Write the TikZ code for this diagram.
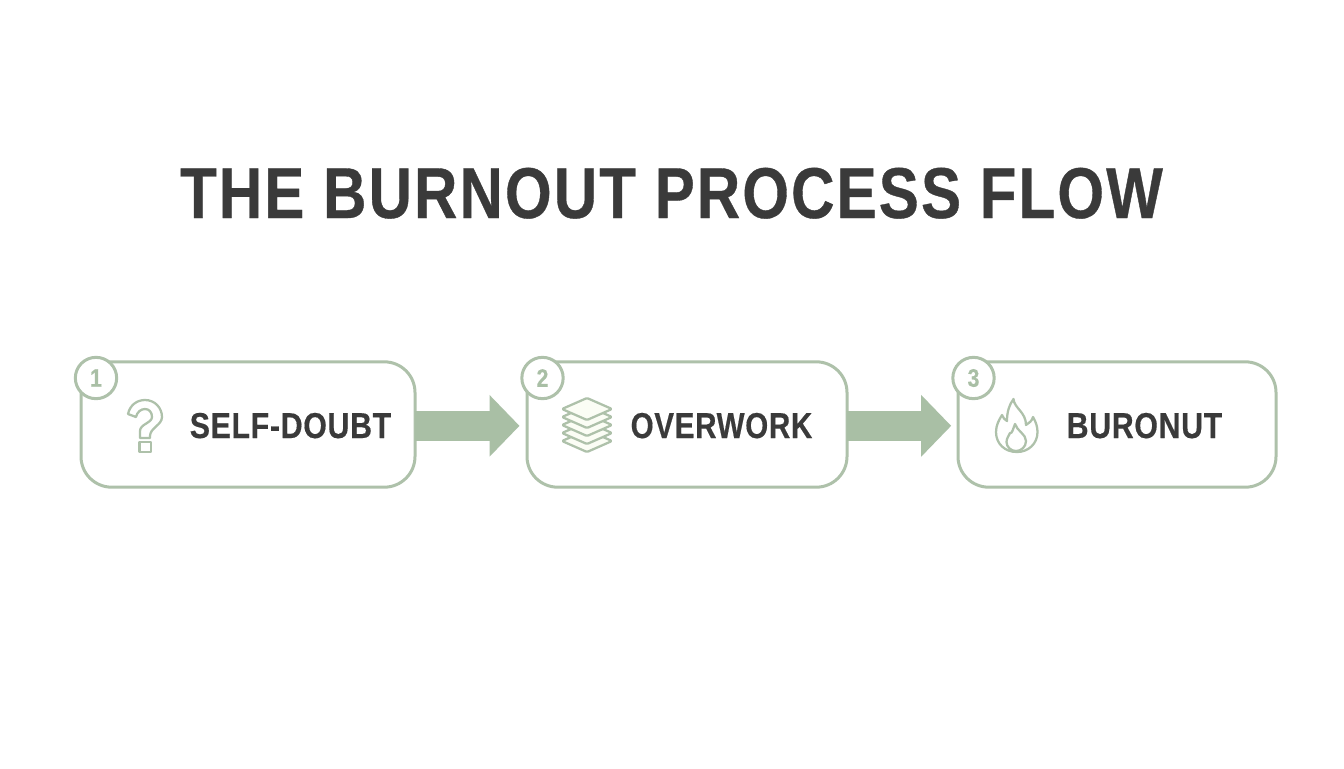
\documentclass[tikz,border=0pt]{standalone}
\usepackage{fontspec}
\setmainfont{Liberation Sans}
\newfontfamily\titlefont[FakeStretch=0.833,LetterSpace=3,FakeBold=0.5]{Liberation Sans Bold}
\newfontfamily\labelfont[FakeStretch=0.84,LetterSpace=2,FakeBold=0.4]{Liberation Sans Bold}
\newfontfamily\labelfontb[FakeStretch=0.82,LetterSpace=2,FakeBold=0.4]{Liberation Sans Bold}
\usetikzlibrary{arrows.meta}
\definecolor{sage}{HTML}{A9BFA5}
\definecolor{sageline}{HTML}{AEC1AA}
\definecolor{ink}{HTML}{3A3A3A}
\definecolor{leaf}{HTML}{FBFDF5}
\tikzset{
  x=0.75pt,y=-0.75pt,
  stagebox/.style={draw=sageline,line width=2.25pt,rounded corners=23pt,fill=white,minimum height=94pt,inner sep=0pt},
  badge/.style={circle,draw=sageline,line width=2.25pt,fill=white,minimum size=31pt,inner sep=0pt,text=sage,font=\labelfont\fontsize{19}{19}\selectfont},
  stagelabel/.style={text=ink,font=\labelfont\fontsize{27}{27}\selectfont,inner sep=0pt,anchor=base},
  flowarrow/.style={draw=sage,line width=22.5pt,-{Triangle[length=22.5pt,width=45pt]}},
  icon/.style={draw=sageline,line width=1.7pt,line join=round},
}
\begin{document}
\begin{tikzpicture}
\useasboundingbox (0,0) rectangle (1344,768);
\fill[white] (0,0) rectangle (1344,768);
\node[text=ink,font=\titlefont\fontsize{54}{54}\selectfont,inner sep=0pt,anchor=base] (title) at (671.5,218) {THE BURNOUT PROCESS FLOW};
\node[stagebox,minimum width=250.5pt] (box1) at (248,424.5) {};
\node[stagebox,minimum width=240pt] (box2) at (687,424.5) {};
\node[stagebox,minimum width=238.5pt] (box3) at (1117,424.5) {};
\draw[flowarrow] ([xshift=-1.5pt,yshift=-1pt]box1.east) -- ([xshift=-4.5pt,yshift=-1pt]box2.west);
\draw[flowarrow] ([xshift=-1.5pt,yshift=-1pt]box2.east) -- ([xshift=-4pt,yshift=-1pt]box3.west);
\node[badge] (n1) at (96,378) {1};
\node[badge] (n2) at (542.5,378) {2};
\node[badge] (n3) at (973.5,378) {3};
\node[stagelabel] (l1) at (290.5,438) {SELF-DOUBT};
\node[stagelabel,font=\labelfontb\fontsize{27}{27}\selectfont] (l2) at (721.5,438) {OVERWORK};
\node[stagelabel] (l3) at (1144.5,438) {BURONUT};
% question mark
\draw[icon] (128,414) .. controls (130,405) and (137,400) .. (145,400)
  .. controls (155,400) and (162,408) .. (162,417)
  .. controls (162,425) and (150,428) .. (150,436) -- (150,438) -- (140,438) -- (140,431)
  .. controls (140,424) and (152,423) .. (152,417)
  .. controls (152,412) and (149,409) .. (145,409)
  .. controls (141,409) and (137,412) .. (136,417) -- cycle;
\draw[icon] (139.5,442) rectangle (151,452);
% stack
\foreach \yy in {441,433,425,417,409}{
  \draw[icon,fill=leaf,rounded corners=1pt] (562,\yy) -- (587,\yy-11) -- (612,\yy) -- (587,\yy+11) -- cycle;
}
% flame
\draw[icon] (1013.5,399) .. controls (1014,408) and (1026,412) .. (1026,425)
  .. controls (1029,423) and (1032,421) .. (1033,417)
  .. controls (1036,422) and (1037.5,427) .. (1037.5,432)
  .. controls (1037.5,444) and (1028,452) .. (1017,452)
  .. controls (1005,452) and (996,444) .. (996,432)
  .. controls (996,425) and (999,420) .. (1002,415)
  .. controls (1003,418) and (1005,420) .. (1007,421)
  .. controls (1007,412) and (1009,405) .. (1013.5,399) -- cycle;
\draw[icon] (1015,424) .. controls (1017,431) and (1026,434) .. (1026,441)
  .. controls (1026,447) and (1021,451) .. (1016,451)
  .. controls (1011,451) and (1006.5,447) .. (1006.5,442)
  .. controls (1006.5,438) and (1009,436) .. (1010,433)
  .. controls (1012,434) and (1013,429) .. (1015,424) -- cycle;
\end{tikzpicture}
\end{document}
